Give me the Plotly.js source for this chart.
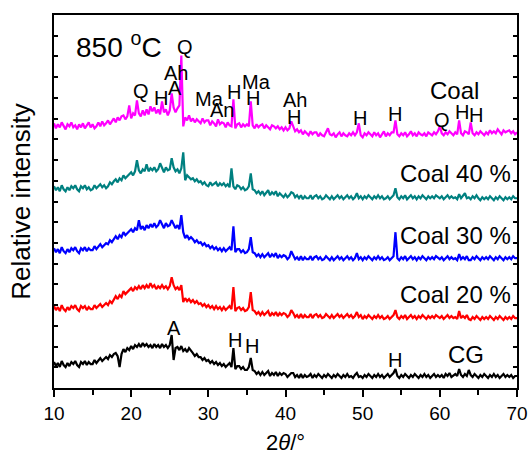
<!DOCTYPE html>
<html>
<head>
<meta charset="utf-8">
<script src="https://cdn.plot.ly/plotly-3.0.1.min.js"></script>
<style>html,body{margin:0;padding:0;background:#fff;}#chart{width:531px;height:461px;}</style>
</head>
<body>
<div id="chart"></div>
<script>
// 2θ grid: 10° to 70° in 0.25° steps (241 points)
const thetaStart = 10, thetaStep = 0.25, thetaCount = 241;
const twoTheta = [];
for (let i = 0; i < thetaCount; i++) twoTheta.push(thetaStart + i * thetaStep);

const seriesNames = ["CG", "Coal 20 %", "Coal 30 %", "Coal 40 %", "Coal"];

// Relative intensity (offset, arbitrary units)
const coal = [
265,260,264,261, 266,262,259,264, 262,266,261,263, 259,264,261,265, 260,263,266,261,
264,260,262,266, 262,267,263,265, 268,264,267,270, 266,271,268,272, 273,269,272,283,
270,275,273,288, 275,272,278,273, 279,274,282,277, 281,275,279,274, 287,276,279,273,
278,295,281,276, 280,283,333,262, 271,268,273,267, 270,266,269,267, 265,270,266,268,
268,263,267,265, 262,269,264,266, 265,261,266,263, 262,289,260,264, 265,261,264,262,
264,262,287,263, 260,264,261,263, 264,260,263,261, 259,263,262,260, 262,259,261,258,
261,258,260,267, 262,257,259,256, 258,254,257,255, 253,257,254,256, 256,252,255,253,
252,256,260,254, 253,255,251,254, 256,252,255,253, 252,255,253,256, 253,256,265,253,
251,255,253,256, 254,252,256,253, 255,251,254,257, 252,255,253,256, 256,268,254,252,
255,253,256,252, 254,257,253,255, 252,256,254,253, 255,252,256,254, 253,256,254,257,
262,255,253,256, 254,257,255,253, 256,254,268,255, 253,257,256,254, 266,255,253,256,
254,257,255,253, 256,254,258,255, 257,255,259,256, 254,258,256,257, 258,255,257,254,
256];

const coal40 = [
202,198,201,197, 203,199,197,201, 198,202,200,203, 199,197,202,200, 203,199,201,198,
199,203,200,202, 204,201,203,200, 202,206,204,207, 209,206,210,208, 213,210,212,215,
216,213,217,228, 218,215,219,217, 224,217,220,218, 221,217,219,225, 220,216,221,218,
219,230,221,217, 219,215,220,236, 208,213,211,209, 210,207,209,206, 207,204,206,203,
202,206,203,205, 206,202,205,203, 205,202,204,201, 220,202,199,203, 202,199,201,198,
199,202,215,199, 198,195,197,194, 197,193,196,198, 193,196,194,197, 192,195,193,191,
194,191,193,196, 195,191,193,190, 193,189,192,190, 190,193,189,192, 193,190,192,189,
190,193,191,189, 192,189,191,193, 190,192,189,191, 193,190,192,189, 191,195,190,192,
189,192,190,193, 191,189,192,190, 193,190,192,189, 190,192,189,191, 193,200,191,189,
192,190,193,189, 191,193,190,192, 189,192,190,193, 191,189,192,190, 192,190,193,191,
190,192,189,191, 193,190,192,190, 191,189,194,190, 192,195,190,191, 189,192,190,193,
190,188,191,189, 191,189,192,190, 188,191,189,192, 190,188,191,189, 191,189,192,190,
190];

const coal30 = [
140,136,139,135, 141,137,135,139, 136,140,138,141, 137,135,140,138, 141,137,140,138,
138,142,139,141, 144,141,143,145, 144,148,146,149, 152,149,153,151, 156,153,155,158,
159,156,160,158, 168,159,162,158, 163,160,164,161, 165,161,163,168, 164,160,165,162,
163,168,164,160, 163,159,173,156, 150,153,149,151, 149,146,148,145, 146,143,145,142,
143,140,142,139, 141,138,140,137, 140,137,139,141, 138,162,136,139, 139,136,138,135,
136,139,151,136, 135,132,134,131, 134,131,133,135, 131,134,132,135, 130,133,131,133,
132,129,131,137, 133,129,131,128, 132,128,131,129, 129,132,128,131, 132,129,131,128,
129,132,130,128, 131,128,130,132, 129,131,128,130, 132,129,131,128, 130,135,129,131,
128,131,129,132, 130,128,131,129, 132,129,131,128, 129,131,128,130, 132,156,130,128,
131,129,132,128, 130,132,129,131, 128,131,129,132, 130,128,131,129, 131,129,132,130,
129,131,128,130, 132,129,131,129, 130,128,134,129, 131,129,132,128, 128,131,129,132,
130,128,131,129, 131,129,132,130, 128,131,129,132, 130,128,131,129, 131,129,132,130,
130];

const coal20 = [
82,78,81,77, 83,79,77,81, 78,82,80,83, 79,77,82,80, 82,78,81,79,
79,83,80,82, 84,81,83,85, 83,87,85,88, 92,89,93,91, 97,94,96,99,
100,97,101,99, 102,99,103,100, 103,100,105,101, 103,99,102,100, 103,100,102,99,
102,111,103,99, 101,98,103,86, 90,87,89,86, 88,85,87,84, 85,82,84,81,
83,80,82,79, 82,79,81,78, 81,78,80,82, 79,101,77,80, 81,78,80,77,
78,81,96,78, 77,74,76,73, 76,73,75,77, 72,75,73,76, 72,75,73,75,
74,71,73,78, 75,71,73,70, 74,70,73,71, 71,74,70,73, 74,71,73,70,
71,74,72,70, 73,70,72,74, 71,73,70,72, 74,71,73,70, 72,76,71,73,
69,72,70,73, 71,69,72,70, 73,70,72,69, 70,72,69,71, 73,78,71,69,
72,70,73,69, 71,73,70,72, 69,72,70,73, 71,69,72,70, 72,70,73,71,
70,72,69,71, 73,70,72,70, 71,69,77,70, 72,70,73,69, 68,71,69,72,
70,68,71,69, 71,69,72,70, 68,71,69,72, 70,68,71,69, 71,69,72,70,
70];

const cg = [
26,22,25,21, 27,23,21,25, 22,26,24,27, 23,21,26,24, 27,23,26,24,
24,28,25,27, 30,27,29,31, 29,33,31,34, 35,32,21,34, 39,36,40,38,
42,39,43,41, 44,41,45,42, 44,41,43,40, 44,41,43,40, 44,41,43,40,
43,53,28,40, 41,38,42,37, 39,36,40,38, 35,32,34,31, 31,28,30,27,
28,25,27,24, 26,23,25,22, 24,21,23,25, 21,40,19,22, 22,19,21,18,
18,21,30,18, 17,14,16,13, 16,13,15,17, 12,15,13,16, 12,15,13,15,
14,11,13,15, 15,11,13,10, 14,10,13,11, 12,14,10,13, 11,14,12,10,
13,11,14,12, 10,13,11,14, 12,10,13,11, 14,11,12,10, 13,15,11,12,
10,13,11,14, 12,10,13,11, 14,11,13,10, 12,14,11,13, 15,19,12,10,
13,11,14,12, 10,13,11,14, 12,10,13,11, 14,11,13,10, 12,14,11,13,
11,13,10,14, 12,15,11,13, 14,12,19,13, 11,14,12,18, 13,11,14,12,
10,13,11,14, 12,10,13,11, 14,11,13,10, 12,14,11,13, 11,13,10,12,
12];

const seriesValues = [cg, coal20, coal30, coal40, coal];
const seriesColors = ["#000000", "#FF0000", "#0000FF", "#008080", "#FF00FF"];

const traces = seriesValues.map((vals, k) => ({
  x: twoTheta, y: vals, type: "scatter", mode: "lines", name: seriesNames[k],
  line: {color: seriesColors[k], width: 2.2}, hoverinfo: "skip"
}));

const F = "Arial, 'Liberation Sans', Helvetica, sans-serif";
function lab(text, x, y, size, xanchor) {
  return {text: text, x: x, y: y, xref: "x", yref: "y", showarrow: false,
    font: {family: F, size: size || 20, color: "#000"}, xanchor: xanchor || "center", yanchor: "middle"};
}

const annotations = [
  lab("850 <sup>o</sup>C", 12.6, 343, 28, "left"),
  lab("Q", 26.97, 341),
  lab("Ah", 25.8, 315),
  lab("A", 25.67, 300),
  lab("H", 23.86, 290),
  lab("Q", 21.27, 297),
  lab("Ma", 30.2, 289),
  lab("An", 31.76, 278),
  lab("H", 33.3, 296),
  lab("Ma", 36.3, 306),
  lab("H", 35.78, 290),
  lab("Ah", 41.2, 288),
  lab("H", 41.1, 271),
  lab("H", 49.6, 270),
  lab("H", 54.17, 274),
  lab("Coal", 61.94, 298, 24),
  lab("Q", 60.26, 268),
  lab("H", 62.85, 276),
  lab("H", 64.66, 273),
  lab("Coal 40 %", 69.5, 215, 24, "right"),
  lab("Coal 30 %", 69.5, 153, 24, "right"),
  lab("Coal 20 %", 69.5, 94, 24, "right"),
  lab("A", 25.5, 60),
  lab("H", 33.4, 48),
  lab("H", 35.6, 42),
  lab("H", 54.2, 28),
  lab("CG", 63.4, 34, 24)
];

const layout = {
  width: 531, height: 461,
  margin: {l: 54, r: 14, t: 15, b: 73},
  paper_bgcolor: "#fff", plot_bgcolor: "#fff",
  showlegend: false,
  font: {family: F, color: "#000"},
  xaxis: {
    range: [10, 70], dtick: 10, tick0: 10,
    ticks: "outside", ticklen: 7, tickwidth: 2, tickcolor: "#000",
    minor: {dtick: 5, ticks: "outside", ticklen: 5, tickwidth: 2, tickcolor: "#000"},
    showline: true, linewidth: 2, linecolor: "#000", mirror: true,
    showgrid: false, zeroline: false,
    tickfont: {family: F, size: 19, color: "#000"},
    title: {text: "2<i>θ</i>/°", font: {family: F, size: 22, color: "#000"}, standoff: 12}
  },
  yaxis: {
    range: [0, 373.5], dtick: 20.75, tick0: 0,
    ticks: "inside", ticklen: 4, tickwidth: 2, tickcolor: "#000",
    showticklabels: false,
    showline: true, linewidth: 2, linecolor: "#000", mirror: "ticks",
    showgrid: false, zeroline: false,
    title: {text: "Relative intensity", font: {family: F, size: 26, color: "#000"}, standoff: 14}
  },
  annotations: annotations
};

Plotly.newPlot("chart", traces, layout, {displayModeBar: false, staticPlot: true});
</script>
</body>
</html>
